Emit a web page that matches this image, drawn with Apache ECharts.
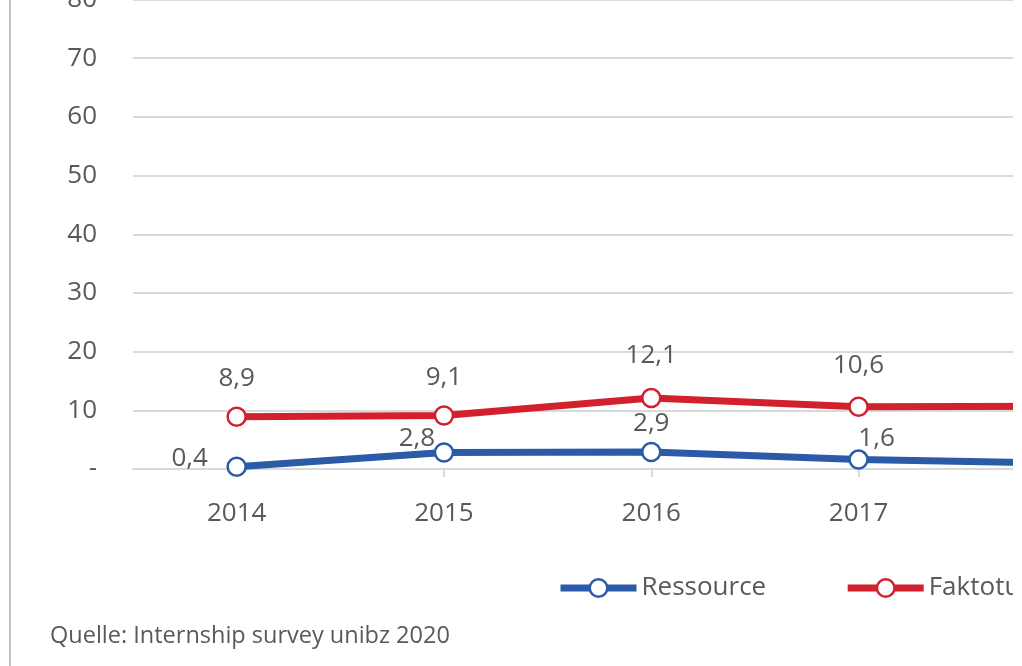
<!DOCTYPE html>
<html>
<head>
<meta charset="utf-8">
<script src="https://cdn.jsdelivr.net/npm/echarts@6/dist/echarts.min.js"></script>
<style>
html,body{margin:0;padding:0;background:#fff;overflow:hidden;}
#wrap{position:absolute;left:0;top:0;width:1013px;height:666px;overflow:hidden;background:#fff;}
#chart{position:absolute;left:0;top:-40px;width:1200px;height:706px;}
</style>
</head>
<body>
<div id="wrap"><div id="chart"></div></div>
<script>
const years = ['2014', '2015', '2016', '2017', '2018'];
const ressource = [0.4, 2.8, 2.9, 1.6, 1.0];
const faktotum = [8.9, 9.1, 12.1, 10.6, 10.7];
const seriesNames = ['Ressource', 'Faktotum'];
const sourceNote = 'Quelle: Internship survey unibz 2020';

// label placement (styling only)
const blueOffsets = [[-47, -8], [-27, -14], [0, -28], [18, -21], [0, -28]];
const redOffsets = [[0, -38], [0, -38], [0, -42], [0, -41], [0, -40]];

const FONT = 'Open Sans';
const TXT = '#595959';
const BLUE = '#2b5aa8';
const RED = '#d2202e';
const fmt = v => String(v).replace('.', ',');

function mkData(vals, offs) {
  return vals.map((v, i) => ({
    value: v,
    label: { offset: offs[i] }
  }));
}

const chart = echarts.init(document.getElementById('chart'), null, { renderer: 'canvas' });
chart.setOption({
  animation: false,
  backgroundColor: '#fff',
  textStyle: { fontFamily: FONT },
  grid: { left: 133, top: 39.5, width: 1036.5, height: 469.5, containLabel: false },
  xAxis: {
    type: 'category',
    data: years,
    boundaryGap: true,
    axisLine: { show: true, lineStyle: { color: '#d9d9d9', width: 2 } },
    axisTick: { show: true, alignWithLabel: true, length: 8, lineStyle: { color: '#d9d9d9', width: 2 } },
    axisLabel: { color: TXT, fontSize: 26, fontFamily: FONT, margin: 32 }
  },
  yAxis: {
    type: 'value',
    min: 0, max: 80, interval: 10,
    axisLine: { show: false },
    axisTick: { show: false },
    splitLine: { lineStyle: { color: '#d9d9d9', width: 2 } },
    axisLabel: { color: TXT, fontSize: 26, fontFamily: FONT, margin: 36,
      formatter: v => v === 0 ? '-' : String(v) }
  },
  legend: {
    left: 552, top: 608,
    itemWidth: 76, itemHeight: 22, itemGap: 78,
    textStyle: { color: TXT, fontSize: 26, fontFamily: FONT, lineHeight: 30 },
    lineStyle: { width: 7 },
    itemStyle: { borderWidth: 2.5 },
    data: seriesNames
  },
  series: [
    {
      name: seriesNames[0], type: 'line', data: mkData(ressource, blueOffsets),
      symbol: 'circle', symbolSize: 18,
      itemStyle: { color: '#fff', borderColor: BLUE, borderWidth: 2.5 },
      lineStyle: { color: BLUE, width: 7 },
      label: { show: true, position: 'inside', color: TXT, fontSize: 26, fontFamily: FONT, formatter: p => fmt(p.value) },
      z: 3
    },
    {
      name: seriesNames[1], type: 'line', data: mkData(faktotum, redOffsets),
      symbol: 'circle', symbolSize: 18,
      itemStyle: { color: '#fff', borderColor: RED, borderWidth: 2.5 },
      lineStyle: { color: RED, width: 7 },
      label: { show: true, position: 'inside', color: TXT, fontSize: 26, fontFamily: FONT, formatter: p => fmt(p.value) },
      z: 3
    }
  ],
  graphic: [
    { type: 'line', shape: { x1: 10, y1: 0, x2: 10, y2: 706 }, style: { stroke: '#c4c4c4', lineWidth: 2 } },
    { type: 'text', left: 50, top: 664, style: { text: sourceNote, fill: TXT, font: '23.5px "Open Sans"' } }
  ]
});
</script>
</body>
</html>
